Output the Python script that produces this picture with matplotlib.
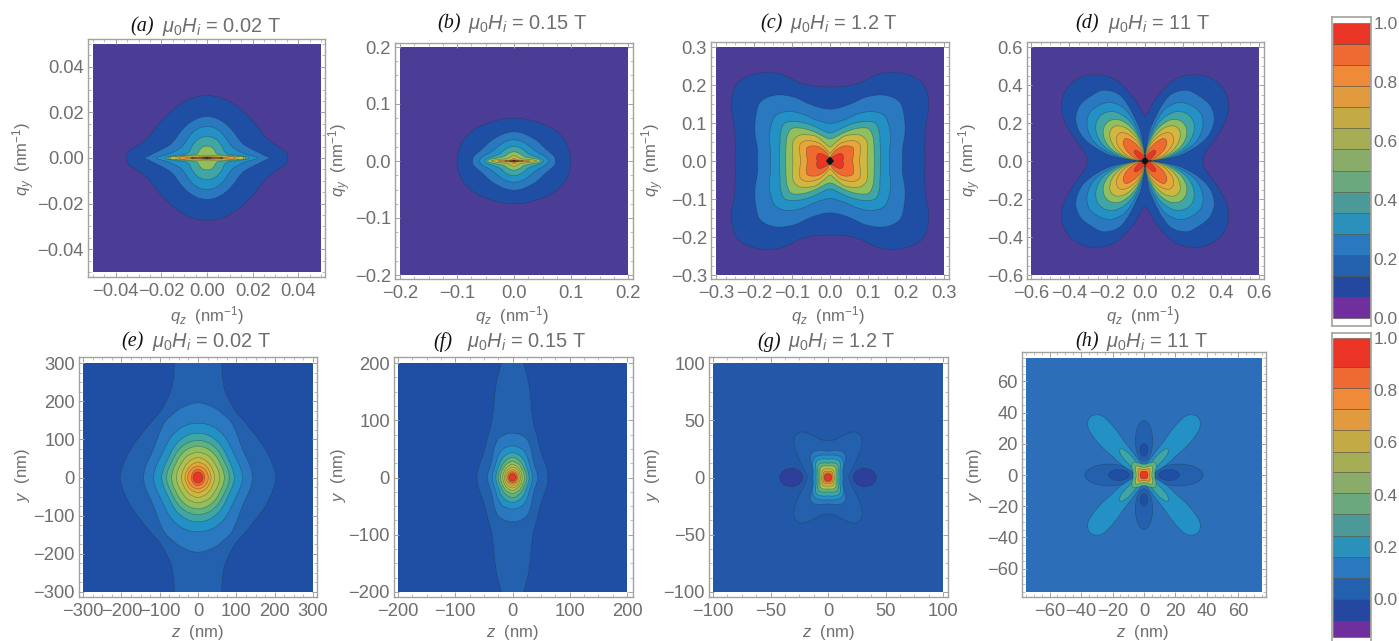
import numpy as np
import matplotlib
matplotlib.use('Agg')
import matplotlib.pyplot as plt
from matplotlib.patches import Ellipse, PathPatch, Rectangle
from matplotlib.path import Path
from matplotlib.ticker import AutoMinorLocator

W, H = 1399, 641
GREY = '#6e6e6e'
FRAME = '#a3a29c'
EDGE = (0.12, 0.22, 0.22, 0.42)

plt.rcParams['font.family'] = ['Liberation Sans', 'DejaVu Sans']
plt.rcParams['mathtext.fontset'] = 'custom'
plt.rcParams['mathtext.rm'] = 'Liberation Sans'
plt.rcParams['mathtext.it'] = 'Liberation Sans:italic'
plt.rcParams['mathtext.bf'] = 'Liberation Sans:bold'

# colour bar bands, bottom to top
bar_bands = ['#6f2f9c', '#24479f', '#2361ae', '#2a78c0', '#2a91bb', '#4b9a97', '#6aa87d',
             '#89ad69', '#a5ae55', '#c4aa45', '#e29a3e', '#ee8a38', '#ee6a32', '#ea3426']
# the plots use the same scale a bit more saturated, then black and brown for the centre
bands = ['#6f2f9c', '#1f4ea5', '#2361ae', '#2a78c0', '#2390c6', '#3fa6a5', '#5fb37e',
         '#8fbf5f', '#b0c050', '#d0b840', '#e8a53a', '#f08f33', '#f06a30', '#ea3426',
         '#111111', '#7a4a20']
field_purple = '#4b3d96'

titles = ['(a)', '(b)', '(c)', '(d)', '(e)', '(f)', '(g)', '(h)']
fields = ['0.02', '0.15', '1.2', '11', '0.02', '0.15', '1.2', '11']
ranges = [0.05, 0.2, 0.3, 0.6, 300, 200, 100, 75]
ticks = [[-0.04, -0.02, 0.0, 0.02, 0.04],
         [-0.2, -0.1, 0.0, 0.1, 0.2],
         [-0.3, -0.2, -0.1, 0.0, 0.1, 0.2, 0.3],
         [-0.6, -0.4, -0.2, 0.0, 0.2, 0.4, 0.6],
         [-300, -200, -100, 0, 100, 200, 300],
         [-200, -100, 0, 100, 200],
         [-100, -50, 0, 50, 100],
         [-60, -40, -20, 0, 20, 40, 60]]
tick_formats = ['%.2f', '%.1f', '%.1f', '%.1f', '%d', '%d', '%d', '%d']

# contour radii, one row per filled level, one column per angle
a_angles = [0, 2, 5, 10, 20, 30, 40, 50, 60, 70, 80, 90]
a_levels = [1, 3, 4, 5, 7, 9, 11, 15, 14]
a_radii = [
    [.0353, .0352, .0345, .031, .0272, .0262, .0258, .0258, .0262, .0268, .0272, .0274],
    [.0271, .0255, .0235, .0205, .0172, .0162, .0162, .0165, .017, .0175, .018, .0182],
    [.022, .0205, .0175, .015, .0125, .0118, .0118, .0122, .0128, .0133, .0137, .0138],
    [.0184, .0165, .0135, .0095, .0082, .0082, .0084, .0086, .009, .0092, .0094, .0094],
    [.017, .0145, .0115, .0072, .0048, .0045, .0046, .0048, .005, .0052, .0052, .0052],
    [.016, .012, .0095, .0055, .0032, .0024, .0019, .0016, .0014, .0013, .0012, .0012],
    [.012, .0075, .0048, .003, .0018, .0013, .001, .00085, .00075, .0007, .0007, .0007],
    [.007, .0045, .0028, .0016, .001, .0007, .0006, .0005, .00045, .0004, .0004, .0004],
    [.002, .0015, .001, .0006, .0004, .0003, .0003, .0003, .0003, .0003, .0003, .0003],
]

b_angles = [0, 2, 5, 10, 20, 30, 40, 50, 60, 70, 80, 90]
b_levels = [1, 3, 4, 5, 7, 9, 11, 15, 14]
b_radii = [
    [.0997, .0997, .0995, .099, .097, .093, .088, .083, .079, .077, .0755, .0752],
    [.0729, .0725, .072, .068, .06, .056, .054, .052, .051, .051, .051, .0513],
    [.0612, .06, .058, .053, .044, .04, .038, .037, .037, .037, .037, .0373],
    [.0513, .05, .047, .04, .031, .027, .026, .0255, .0255, .0255, .0255, .0257],
    [.0466, .045, .04, .03, .021, .018, .017, .0165, .016, .016, .016, .0163],
    [.0396, .036, .028, .019, .0125, .0105, .0095, .009, .009, .009, .0092, .0093],
    [.028, .024, .016, .009, .0058, .0052, .0048, .0046, .0046, .0046, .0047, .0047],
    [.016, .012, .007, .004, .0028, .0024, .0022, .0021, .002, .002, .002, .002],
    [.0076, .005, .003, .002, .0015, .0013, .0012, .0012, .0012, .0012, .0012, .0012],
]

c_angles = [0, 5, 10, 20, 30, 40, 50, 60, 70, 80, 85, 90]
c_levels = [1, 3, 4, 5, 7, 9, 10, 12, 13, 14]
c_radii = [
    [.25, .25, .253, .268, .30, .318, .30, .265, .217, .199, .196, .195],
    [.191, .191, .194, .21, .226, .24, .226, .195, .16, .142, .138, .1365],
    [.157, .157, .159, .17, .18, .186, .17, .142, .116, .104, .10, .099],
    [.133, .133, .135, .14, .15, .155, .135, .112, .092, .079, .075, .074],
    [.117, .117, .118, .123, .13, .132, .112, .09, .073, .062, .059, .058],
    [.098, .098, .10, .105, .11, .105, .09, .075, .055, .042, .038, .037],
    [.078, .078, .08, .085, .09, .083, .068, .053, .035, .025, .022, .02],
    [.06, .06, .062, .066, .07, .062, .05, .035, .022, .012, .008, .007],
    [.033, .035, .036, .037, .037, .03, .018, .012, .008, .005, .004, .004],
    [.01, .01, .009, .009, .008, .008, .008, .009, .009, .01, .01, .01],
]

d_angles = [0, 5, 10, 20, 30, 40, 50, 60, 70, 80, 85, 90]
d_levels = [1, 3, 4, 5, 7, 9, 10, 12, 13, 14]
d_radii = [
    [.305, .31, .33, .41, .505, .555, .56, .525, .455, .335, .275, .24],
    [.02, .09, .20, .34, .42, .45, .445, .43, .36, .18, .08, .02],
    [.015, .07, .16, .28, .35, .385, .38, .355, .28, .13, .06, .015],
    [.012, .055, .13, .23, .295, .33, .33, .295, .215, .10, .045, .012],
    [.01, .045, .10, .19, .25, .28, .28, .245, .17, .08, .035, .01],
    [.008, .035, .08, .15, .205, .24, .24, .20, .13, .06, .027, .008],
    [.006, .025, .06, .115, .165, .195, .195, .155, .10, .045, .02, .006],
    [.004, .015, .035, .07, .115, .15, .155, .11, .065, .03, .012, .004],
    [.003, .008, .015, .03, .05, .075, .075, .05, .03, .015, .008, .003],
    [.035, .022, .018, .016, .016, .017, .017, .016, .016, .018, .022, .035],
]

e_angles = [0, 10, 20, 30, 40, 50, 60, 70, 75, 80, 85, 90]
e_levels = [2, 3, 4, 5, 6, 7, 8, 9, 10, 11, 12, 13]
e_radii = [
    [203, 198, 192, 188, 186, 190, 198, 225, 255, 345, 690, 900],
    [142, 140, 137, 137, 143, 155, 170, 180, 186, 190, 194, 196],
    [116, 114, 112, 112, 115, 122, 130, 137, 139, 141, 142, 142],
    [95, 93, 92, 92, 95, 100, 106, 111, 113, 115, 116, 116],
    [82, 81, 80, 80, 82, 86, 90, 94, 95, 96, 97, 97],
    [69, 68, 68, 68, 70, 73, 76, 79, 80, 81, 82, 82],
    [56, 56, 56, 56, 57, 59, 62, 64, 64, 65, 66, 66],
    [43, 43, 43, 43, 45, 46, 48, 50, 50, 51, 52, 52],
    [34, 34, 34, 34, 35, 36, 37, 38, 38, 39, 40, 40],
    [27, 27, 27, 27, 27.5, 28, 28.5, 29, 29, 29.5, 30, 30],
    [17.5, 17.5, 17.5, 18, 18.5, 19, 20, 20.5, 21, 21.5, 21.5, 21.5],
    [13, 13, 13, 13, 13.5, 13.5, 14, 14, 14.5, 14.6, 14.6, 14.6],
]

f_angles = [0, 10, 20, 30, 40, 50, 60, 70, 80, 85, 90]
f_levels = [2, 3, 4, 5, 6, 7, 8, 9, 10, 11, 12, 13]
f_radii = [
    [62, 62, 62, 63, 66, 73, 85, 105, 165, 205, 250],
    [44, 43.5, 43, 44, 47, 53, 62, 72, 76, 77, 77],
    [35, 35, 35, 36, 38, 42, 47, 52, 54, 55, 55],
    [29, 29, 29, 30, 31, 34, 37, 40, 42, 43, 43],
    [25, 25, 25, 25.5, 26, 28, 30, 32, 34, 35, 35],
    [21, 21, 21, 21.5, 22, 23, 25, 26, 27, 28, 28],
    [17, 17, 17, 17.5, 18, 19, 20, 21, 22, 23, 23],
    [14, 14, 14, 14.5, 15, 15.5, 16, 17, 17.5, 18, 18],
    [11.5, 11.5, 11.5, 11.5, 12, 12, 12.5, 13, 13.5, 14, 14],
    [9, 9, 9, 9, 9.5, 9.5, 10, 10, 10.5, 10.5, 10.5],
    [7.5, 7.5, 7.5, 7.5, 7.5, 8, 8, 8, 8.5, 8.5, 8.5],
    [6, 6, 6, 6, 6, 6, 6.2, 6.2, 6.5, 6.5, 6.5],
]

g_angles = [0, 10, 20, 30, 40, 50, 60, 70, 80, 90]
g_levels = [2, 3, 4, 5, 6, 8, 9, 11, 12, 13]
g_radii = [
    [18, 19.5, 22.5, 28, 37, 45.5, 46, 39, 33.5, 32],
    [14, 14, 14.5, 16, 19, 24, 26, 25, 24, 23],
    [13, 13, 13.5, 15, 17.5, 20, 21, 20.5, 20, 19.5],
    [10.5, 10.5, 11, 12, 14, 16.5, 17.5, 17, 16.5, 16],
    [8.7, 8.7, 9.2, 10, 11.5, 13.5, 14, 13.5, 13, 12.5],
    [7, 7, 7.4, 8, 9, 10.5, 11, 10.7, 10.3, 10],
    [5.5, 5.5, 5.7, 6, 6.8, 7.8, 8, 7.8, 7.6, 7.5],
    [4.5, 4.5, 4.6, 4.8, 5.2, 5.8, 6, 5.8, 5.6, 5.5],
    [3.5, 3.5, 3.5, 3.6, 3.8, 4.1, 4.2, 4.1, 4, 4],
    [3, 3, 3, 3, 3, 3, 3, 3, 3, 3],
]
# the two dark spots beside the centre of (g): z centre, half width, half height
g_spot = [32, 10, 8]

h_angles = [0, 10, 20, 25, 30, 35, 40, 45, 50, 55, 58, 60, 65, 70, 80, 90]
h_levels = [4, 5, 6, 8, 11, 13]
h_radii = [
    [6, 6.5, 10, 16, 22, 35, 46, 50, 50, 46, 36, 24, 15, 10, 7, 6],
    [5.5, 5.5, 6, 7, 8, 11, 18, 22, 22, 17, 12, 9, 7.5, 6.5, 5.5, 5.5],
    [7, 7, 7.5, 8, 9, 9.5, 10, 10.5, 10.5, 10, 9.5, 9, 8.5, 8, 7, 7],
    [5, 5, 5.5, 5.8, 6.2, 6.7, 7.2, 7.5, 7.5, 7.2, 6.7, 6.4, 5.9, 5.5, 5, 5],
    [3.7, 3.7, 3.9, 4.1, 4.4, 4.7, 5, 5.2, 5.2, 5, 4.7, 4.4, 4.2, 3.9, 3.7, 3.7],
    [2.5, 2.5, 2.5, 2.5, 2.6, 2.7, 2.8, 2.9, 2.9, 2.8, 2.7, 2.6, 2.5, 2.5, 2.5, 2.5],
]
# axial petals of (h): centre, half length, half width
h_petal_z = [22, 15.5, 7]
h_petal_y = [22, 13, 5.5]
h_inner_z = [16, 6.5, 3.5]
h_inner_y = [16, 4, 2.5]

all_angles = [a_angles, b_angles, c_angles, d_angles, e_angles, f_angles, g_angles, h_angles]
all_levels = [a_levels, b_levels, c_levels, d_levels, e_levels, f_levels, g_levels, h_levels]
all_radii = [a_radii, b_radii, c_radii, d_radii, e_radii, f_radii, g_radii, h_radii]
backgrounds = [field_purple, field_purple, field_purple, field_purple,
               bands[1], bands[1], '#2358a8', '#2d6eb9']

# colour bar band edges
top_edges = np.arange(15) / 14
bottom_edges = [-.144, -.086, 0, .081, .162, .241, .324, .405, .485, .565, .647, .728, .809, .888, 1.0]
bar_ticks = [0.0, 0.2, 0.4, 0.6, 0.8, 1.0]

# layout in reference pixels: frame box, then coloured box (x0, x1, y0, y1)
frames = [(88, 325, 39, 277), (395, 633, 43, 279), (711, 949, 42, 279), (1027, 1264, 42, 279),
          (79, 317, 357, 597), (394, 633, 357, 597), (709, 948, 357, 597), (1022, 1266, 352, 597)]
inners = [(93, 321, 44, 272), (400, 628, 47, 275), (716, 944, 47, 275), (1031, 1259, 47, 275),
          (83, 313, 363, 592), (398, 627, 363, 592), (713, 943, 363, 592), (1026, 1262, 358, 592)]
title_pos = [(130, 162, 27), (437, 468, 24), (760, 790, 24), (1075, 1108, 24),
             (121, 152, 342), (433, 467, 342), (757, 788, 342), (1075, 1106, 342)]
xlabel_pos = [(207, 316), (512, 316), (828, 316), (1143, 316),
              (197, 633), (512, 633), (828, 633), (1142, 633)]
ylabel_pos = [(24, 159), (340, 160), (653, 160), (970, 160),
              (22, 475), (338, 475), (653, 475), (975, 475)]


def px_axes(fig, box):
    x0, x1, y0, y1 = box
    return fig.add_axes([x0 / W, 1 - y1 / H, (x1 - x0) / W, (y1 - y0) / H])


def contour_path(angles, radii):
    # mirror one quadrant into a closed, smooth curve through the read points
    a = np.array(angles, dtype=float)
    r = np.array(radii, dtype=float)
    th = np.concatenate([a, 180 - a[::-1][1:], 180 + a[1:], 360 - a[::-1][1:-1]])
    rr = np.concatenate([r, r[::-1][1:], r[1:], r[::-1][1:-1]])
    pts = np.column_stack([rr * np.cos(np.radians(th)), rr * np.sin(np.radians(th))])
    n = len(pts)
    tangent = np.roll(pts, -1, axis=0) - np.roll(pts, 1, axis=0)
    tangent = tangent / (np.linalg.norm(tangent, axis=1, keepdims=True) + 1e-12)
    verts = [pts[0]]
    codes = [Path.MOVETO]
    for i in range(n):
        j = (i + 1) % n
        d = np.linalg.norm(pts[j] - pts[i]) / 3
        verts += [pts[i] + tangent[i] * d, pts[j] - tangent[j] * d, pts[j]]
        codes += [Path.CURVE4, Path.CURVE4, Path.CURVE4]
    return Path(verts, codes)


def add_ellipse(ax, x, y, w, h, color, z, clip):
    e = Ellipse((x, y), 2 * w, 2 * h, facecolor=color, edgecolor=EDGE, linewidth=0.5, zorder=z)
    ax.add_patch(e)
    e.set_clip_path(clip)


def draw_panel(fig, i):
    ax = px_axes(fig, frames[i])
    R = ranges[i]
    fx0, fx1, fy0, fy1 = frames[i]
    ix0, ix1, iy0, iy1 = inners[i]
    sx = 2 * R / (ix1 - ix0)
    sy = 2 * R / (iy1 - iy0)
    ax.set_xlim(-R - (ix0 - fx0) * sx, R + (fx1 - ix1) * sx)
    ax.set_ylim(-R - (fy1 - iy1) * sy, R + (iy0 - fy0) * sy)

    bg = Rectangle((-R, -R), 2 * R, 2 * R, facecolor=backgrounds[i], edgecolor='none', zorder=1)
    ax.add_patch(bg)

    z = 2
    if i == 6:
        for sign in (-1, 1):
            add_ellipse(ax, sign * g_spot[0], 0, g_spot[1], g_spot[2], '#2d3f9b', z, bg)
    if i == 7:
        for sign in (-1, 1):
            add_ellipse(ax, sign * h_petal_z[0], 0, h_petal_z[1], h_petal_z[2], bands[2], z, bg)
            add_ellipse(ax, 0, sign * h_petal_y[0], h_petal_y[2], h_petal_y[1], bands[2], z, bg)
            add_ellipse(ax, sign * h_inner_z[0], 0, h_inner_z[1], h_inner_z[2], bands[1], z + 1, bg)
            add_ellipse(ax, 0, sign * h_inner_y[0], h_inner_y[2], h_inner_y[1], bands[1], z + 1, bg)
        z = 4

    for level, radii in zip(all_levels[i], all_radii[i]):
        patch = PathPatch(contour_path(all_angles[i], radii), facecolor=bands[level],
                          edgecolor=EDGE, linewidth=0.5, zorder=z)
        ax.add_patch(patch)
        patch.set_clip_path(bg)
        z += 1

    ax.set_xticks(ticks[i])
    ax.set_yticks(ticks[i])
    ax.set_xticklabels([(tick_formats[i] % t).replace('-', '\u2212') for t in ticks[i]])
    ax.set_yticklabels([(tick_formats[i] % t).replace('-', '\u2212') for t in ticks[i]])
    ax.xaxis.set_minor_locator(AutoMinorLocator(4))
    ax.yaxis.set_minor_locator(AutoMinorLocator(4))
    ax.tick_params(which='major', direction='in', top=True, right=True, length=3.5, width=0.7,
                   color=FRAME, labelcolor=GREY, labelsize=13.2)
    ax.tick_params(axis='x', which='major', pad=4.5)
    ax.tick_params(axis='y', which='major', pad=3)
    ax.tick_params(which='minor', direction='in', top=True, right=True, length=2, width=0.5,
                   color=FRAME)
    for spine in ax.spines.values():
        spine.set_color(FRAME)
        spine.set_linewidth(1.0)

    tx, gx, ty = title_pos[i]
    fig.text(tx / W, 1 - ty / H, titles[i], family='Liberation Serif', style='italic',
             fontsize=14.5, color='#111111', va='center')
    fig.text(gx / W, 1 - ty / H, r'$\mu_0H_i$ = %s T' % fields[i], fontsize=14.4, color=GREY, va='center')

    lx, ly = xlabel_pos[i]
    xlabel = r'$q_z$  (nm$^{-1}$)' if i < 4 else r'$z$  (nm)'
    fig.text(lx / W, 1 - ly / H, xlabel, fontsize=12, color=GREY, ha='center', va='center')
    lx, ly = ylabel_pos[i]
    ylabel = r'$q_y$  (nm$^{-1}$)' if i < 4 else r'$y$  (nm)'
    fig.text(lx / W, 1 - ly / H, ylabel, fontsize=12, color=GREY, ha='center', va='center',
             rotation=90)


def draw_bar(fig, box, edges, ylim):
    ax = px_axes(fig, box)
    edges = np.array(edges, dtype=float)
    ax.bar(np.zeros(14), np.diff(edges), bottom=edges[:-1], width=1, color=bar_bands,
           edgecolor=(0.25, 0.25, 0.2, 0.55), linewidth=0.6)
    ax.set_xlim(-0.52, 0.52)
    ax.set_ylim(*ylim)
    ax.set_xticks([])
    ax.yaxis.tick_right()
    ax.set_yticks(bar_ticks)
    ax.set_yticklabels(['%.1f' % t for t in bar_ticks])
    ax.tick_params(axis='y', length=0, pad=2, labelsize=12.5, labelcolor=GREY)
    for spine in ax.spines.values():
        spine.set_color(FRAME)
        spine.set_linewidth(1.2)


def main():
    fig = plt.figure(figsize=(W / 100, H / 100), dpi=100)
    for i in range(8):
        draw_panel(fig, i)

    # top bar: 1.0 at y=23, 0.0 at y=318 ; bottom bar: 1.0 at y=338, 0.0 at y=599
    draw_bar(fig, (1332, 1371, 17, 326), top_edges, ((318 - 326) / 295, (318 - 17) / 295))
    draw_bar(fig, (1332, 1371, 333, 648), bottom_edges, ((599 - 648) / 261, (599 - 333) / 261))

    fig.savefig('out.png', dpi=100)


if __name__ == '__main__':
    main()
